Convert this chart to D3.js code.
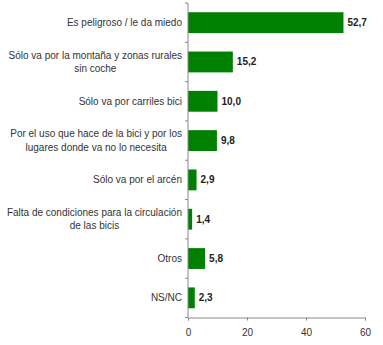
<!DOCTYPE html>
<html><head><meta charset="utf-8">
<script src="https://cdn.jsdelivr.net/npm/d3@7"></script>
<style>body{margin:0;background:#fff;}svg{display:block;}</style>
</head><body>
<script>
const categories = [
  ["Es peligroso / le da miedo"],
  ["Sólo va por la montaña y zonas rurales", "sin coche"],
  ["Sólo va por carriles bici"],
  ["Por el uso que hace de la bici y por los", "lugares donde va no lo necesita"],
  ["Sólo va por el arcén"],
  ["Falta de condiciones para la circulación", "de las bicis"],
  ["Otros"],
  ["NS/NC"]
];
const values = [52.7, 15.2, 10.0, 9.8, 2.9, 1.4, 5.8, 2.3];
const xTicks = [0, 20, 40, 60];

const W = 383, H = 345;
const svg = d3.select("body").append("svg").attr("width", W).attr("height", H);
const font = "Arial, 'Liberation Sans', sans-serif";

const x = d3.scaleLinear().domain([0, 60]).range([188, 365]);
const y = d3.scaleBand().domain(d3.range(categories.length)).range([3, 317.5]).paddingInner(0.47).paddingOuter(0.235);

// bars
svg.selectAll("rect.bar").data(values).join("rect")
  .attr("x", x(0)).attr("y", (d, i) => y(i))
  .attr("width", d => x(d) - x(0)).attr("height", y.bandwidth())
  .attr("fill", "#008000");

// value labels
svg.selectAll("text.val").data(values).join("text")
  .attr("x", d => x(d) + 4).attr("y", (d, i) => y(i) + y.bandwidth() / 2)
  .attr("dy", "0.35em").attr("font-family", font).attr("font-size", 10)
  .attr("font-weight", "bold").attr("fill", "#222")
  .text(d => d.toFixed(1).replace(".", ","));

// category labels (block right-aligned, lines centered within block)
const labelRight = 182;
const lab = svg.selectAll("text.cat").data(categories).join("text")
  .attr("font-family", font).attr("font-size", 10).attr("fill", "#333")
  .attr("text-anchor", "middle");
lab.each(function (lines, i) {
  const cy = y(i) + y.bandwidth() / 2;
  const lh = 13.5;
  const start = cy - (lines.length - 1) * lh / 2;
  const t = d3.select(this);
  const spans = t.selectAll("tspan").data(lines).join("tspan")
    .attr("y", (d, j) => start + j * lh).attr("dy", "0.35em").text(d => d);
  let maxW = 0;
  spans.each(function () { maxW = Math.max(maxW, this.getComputedTextLength()); });
  spans.attr("x", labelRight - maxW / 2);
});

// y axis line and ticks at band boundaries
const axisColor = "#888";
svg.append("line").attr("x1", x(0)).attr("x2", x(0)).attr("y1", 3).attr("y2", 317.5)
  .attr("stroke", axisColor).attr("stroke-width", 1);
const bounds = d3.range(categories.length + 1).map(i => 3 + i * (314.5 / categories.length));
svg.selectAll("line.yt").data(bounds).join("line")
  .attr("x1", x(0) - 3).attr("x2", x(0)).attr("y1", d => d).attr("y2", d => d)
  .attr("stroke", axisColor);

// x axis
const xAxis = svg.append("g").attr("transform", "translate(0,317.5)")
  .call(d3.axisBottom(x).tickValues(xTicks).tickSize(3).tickPadding(8));
xAxis.select(".domain").attr("stroke", axisColor);
xAxis.selectAll(".tick line").attr("stroke", axisColor);
xAxis.selectAll(".tick text").attr("font-family", font).attr("font-size", 10).attr("fill", "#333");
</script>
</body></html>
